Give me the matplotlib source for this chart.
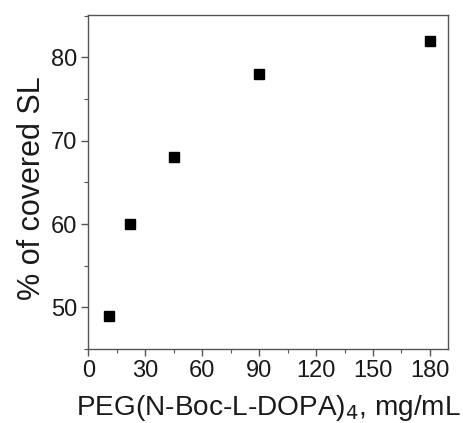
import matplotlib
matplotlib.use("Agg")
import matplotlib.pyplot as plt
from matplotlib.ticker import MultipleLocator

# data
conc = [11, 22, 45, 90, 180]          # PEG(N-Boc-L-DOPA)4, mg/mL
covered = [49, 60, 68, 78, 82]        # % of covered SL

x_ticks = [0, 30, 60, 90, 120, 150, 180]
y_ticks = [50, 60, 70, 80]

plt.rcParams["font.family"] = ["Liberation Sans", "DejaVu Sans"]

fig = plt.figure(figsize=(4.63, 4.23), dpi=100)
ax = fig.add_axes([0.1907, 0.175, 0.7773, 0.7895])

ax.plot(conc, covered, linestyle="none", marker="s", markersize=7.5,
        color="black")

ax.set_xlim(0, 189.6)
ax.set_ylim(45, 85.1)
ax.set_xticks(x_ticks)
ax.set_yticks(y_ticks)
ax.xaxis.set_minor_locator(MultipleLocator(15))
ax.yaxis.set_minor_locator(MultipleLocator(5))

for sp in ax.spines.values():
    sp.set_color("#555555")
    sp.set_linewidth(1.0)

ax.tick_params(which="both", direction="out", color="#555555",
               labelsize=17, labelcolor="#1a1a1a", top=False, right=False)
ax.tick_params(which="major", length=5, width=1.0, pad=3)
ax.tick_params(which="minor", length=3, width=0.8)

ax.set_xlabel("PEG(N-Boc-L-DOPA)$_4$, mg/mL", fontsize=20.2,
              color="#1a1a1a", labelpad=8)
ax.set_ylabel("% of covered SL", fontsize=22, color="#1a1a1a")
ax.yaxis.set_label_coords(-0.115, 0.482)

fig.savefig("out.png", dpi=100)
